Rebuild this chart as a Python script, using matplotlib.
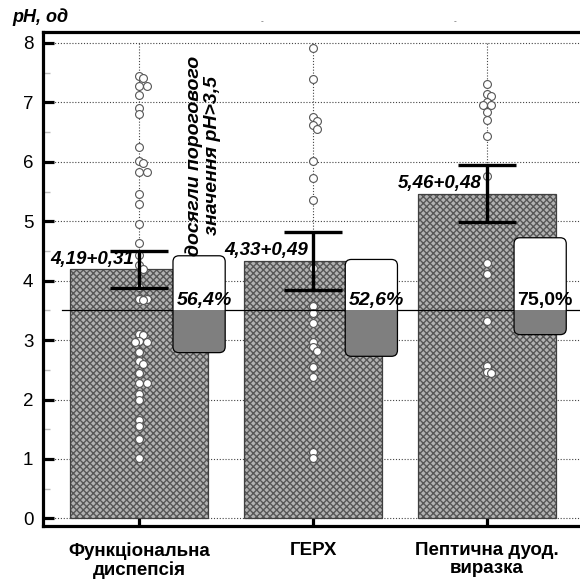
import numpy as np
import matplotlib
matplotlib.use("Agg")
import matplotlib.pyplot as plt
from matplotlib.patches import FancyBboxPatch, Rectangle

plt.rcParams['font.family'] = ['Liberation Sans', 'DejaVu Sans']

# ---------------- data ----------------
categories = ["Функціональна\nдиспепсія", "ГЕРХ", "Пептична дуод.\nвиразка"]
means = [4.19, 4.33, 5.46]
errors = [0.31, 0.49, 0.48]
percents = [56.4, 52.6, 75.0]
threshold = 3.5

group1 = [7.44, 7.41, 7.27, 7.27, 7.12, 6.90, 6.81, 6.25, 6.02, 5.98, 5.83, 5.83,
          5.46, 5.29, 4.95, 4.63, 4.43, 4.26, 4.19, 3.90, 3.70, 3.69, 3.67, 3.10,
          3.08, 2.98, 2.97, 2.96, 2.80, 2.65, 2.60, 2.45, 2.28, 2.28, 2.10, 2.00,
          1.65, 1.55, 1.33, 1.01]
group2 = [7.92, 7.39, 6.76, 6.69, 6.62, 6.55, 6.02, 5.72, 5.35, 4.22, 3.57, 3.46,
          3.29, 2.97, 2.89, 2.82, 2.55, 2.38, 1.12, 1.02]
group3 = [7.31, 7.15, 7.11, 7.00, 6.95, 6.95, 6.84, 6.70, 6.43, 5.77, 4.29, 4.12,
          3.33, 2.56, 2.46, 2.44]
groups = [group1, group2, group3]

y_ticks = [0, 1, 2, 3, 4, 5, 6, 7, 8]
ylabel = "pH, од"
note = "досягли порогового\nзначення pH>3,5"

# ---------------- layout ----------------
W = H = 580
fig = plt.figure(figsize=(5.8, 5.8), dpi=100)
ax = fig.add_axes([43 / W, 1 - 525.7 / H, (W - 43) / W, (525.7 - 32) / H])
xlim = (-0.552, 2.534)
ylim = (-0.123, 8.185)
ax.set_xlim(*xlim)
ax.set_ylim(*ylim)

ax_w_px = (W - 43)
ax_h_px = (525.7 - 32)
px_x = ax_w_px / (xlim[1] - xlim[0])
px_y = ax_h_px / (ylim[1] - ylim[0])

x = np.arange(len(categories))

# grid
for yt in y_ticks:
    ax.axhline(yt, color='#444444', lw=0.8, ls=(0, (1, 1.6)), zorder=0.5)
ax.vlines(x, y_ticks[0], y_ticks[-1], color='#444444', lw=0.8, ls=(0, (1, 1.6)), zorder=0.5)

# bars
bar_w = 0.79
ax.bar(x, means, width=bar_w, color='#b2b2b2', edgecolor='#575757', hatch='xxxxx',
       linewidth=0, zorder=2)
ax.bar(x, means, width=bar_w, fill=False, edgecolor='#404040', linewidth=0.9, zorder=2.1)


# beeswarm-ish placement
def swarm(values, center, d_px=4.3, step_px=4.2):
    placed = []
    out = []
    for v in values:
        yp = v * px_y
        cands = [0]
        for n in range(1, 10):
            cands += [n, -n]
        for c in cands:
            xp = c * step_px
            if all((xp - a) ** 2 + (yp - b) ** 2 >= d_px ** 2 for a, b in placed):
                break
        placed.append((xp, yp))
        out.append(center + xp / px_x)
    return out


for i, g in enumerate(groups):
    xs = swarm(g, x[i])
    ax.scatter(xs, g, s=32, facecolor='white', edgecolor='#555555', linewidth=0.8, zorder=3)

# error bars
ax.errorbar(x, means, yerr=errors, fmt='none', ecolor='black', elinewidth=2.4,
            capsize=21, capthick=2.4, zorder=4)

# threshold line
ax.axhline(threshold, xmin=(62 - 43) / ax_w_px, xmax=1, color='black', lw=0.9, zorder=3.5)

# value labels
for i, (m, e) in enumerate(zip(means, errors)):
    ax.text(x[i] - 0.03, m + 0.03, f"{m:.2f}+{e:.2f}".replace('.', ','),
            ha='right', va='bottom', fontsize=13.5, fontweight='bold', fontstyle='italic',
            zorder=6)

# percentage boxes
box_h = 1.63
box_w = 0.30
box_offsets = [0.345, 0.335, 0.305]
rx = 6 / px_x
aspect = px_x / px_y
for i, p in enumerate(percents):
    frac = p / 100
    x0 = x[i] + box_offsets[i] - box_w / 2
    top = threshold + frac * box_h
    bottom = top - box_h
    fb = FancyBboxPatch((x0, bottom), box_w, box_h,
                        boxstyle=f"round,pad=0,rounding_size={rx}",
                        mutation_aspect=aspect, facecolor='white', edgecolor='none',
                        zorder=5)
    ax.add_patch(fb)
    low = Rectangle((x0, bottom), box_w, threshold - bottom, facecolor='#7f7f7f',
                    edgecolor='none', zorder=5.1)
    ax.add_patch(low)
    low.set_clip_path(fb)
    outline = FancyBboxPatch((x0, bottom), box_w, box_h,
                             boxstyle=f"round,pad=0,rounding_size={rx}",
                             mutation_aspect=aspect, facecolor='none', edgecolor='black',
                             linewidth=0.9, zorder=5.2)
    ax.add_patch(outline)
    ax.text(x0 + 0.02, threshold + 0.03, f"{p:.1f}%".replace('.', ','),
            ha='left', va='bottom', fontsize=14, fontweight='bold',
            fontstyle='italic' if i < 2 else 'normal', zorder=6)

# rotated note
ax.text(x[0] + 0.37, 6.1, note, rotation=90, ha='center', va='center',
        fontsize=14, fontweight='bold', fontstyle='italic', linespacing=1.05, zorder=6)

# axes styling
for s in ['left', 'bottom', 'top']:
    ax.spines[s].set_linewidth(2.3)
    ax.spines[s].set_color('black')
ax.spines['right'].set_visible(False)

ax.set_yticks(y_ticks)
ax.set_yticks(np.arange(0.5, 8, 1.0), minor=True)
ax.tick_params(axis='y', which='major', direction='in', length=8, width=2.3,
               labelsize=13.5, pad=7)
ax.tick_params(axis='y', which='minor', direction='in', length=5, width=1, color='#bbbbbb')
ax.set_xticks(x)
ax.set_xticklabels(categories, fontsize=13.5, fontweight='bold', linespacing=1.05)
ax.tick_params(axis='x', direction='in', length=6, width=2.3, pad=12)

fig.text(12 / W, 1 - 17 / H, ylabel, ha='left', va='center', fontsize=13,
         fontweight='bold', fontstyle='italic')
fig.text(262 / W, 1 - 22 / H, "-", ha='center', va='center', fontsize=6, color='#555555')
fig.text(455 / W, 1 - 22 / H, "-", ha='center', va='center', fontsize=6, color='#555555')

fig.savefig("out.png", dpi=100)
